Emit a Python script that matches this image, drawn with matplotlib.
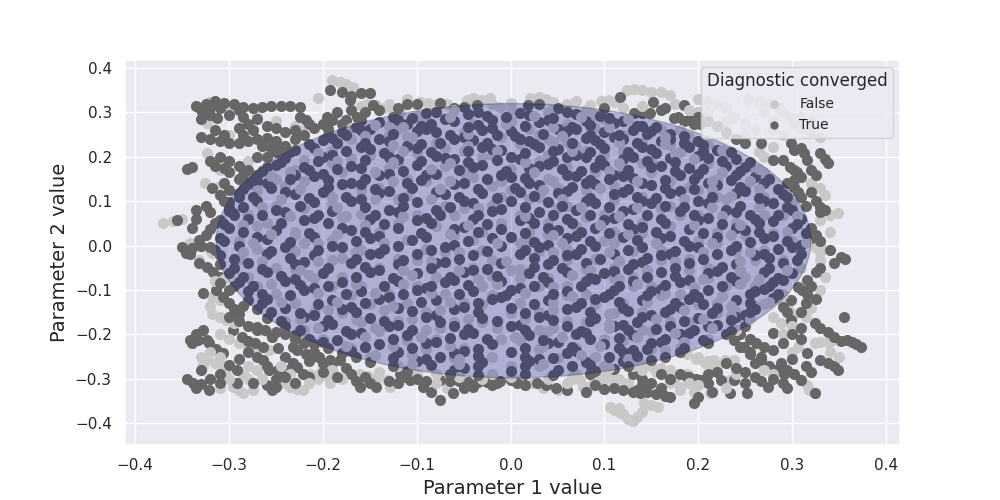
import numpy as np
import matplotlib
matplotlib.use("Agg")
import matplotlib.pyplot as plt
from matplotlib.patches import Ellipse
from matplotlib.lines import Line2D
import seaborn as sns

# points, (parameter 1, parameter 2)
true_outer = [
 (-.335,.315),(-.325,.32),(-.315,.325),(-.305,.322),(-.295,.318),(-.285,.312),(-.275,.31),(-.265,.312),
 (-.255,.314),(-.245,.315),(-.235,.315),(-.225,.312),(-.33,.305),(-.32,.295),(-.313,.287),(-.33,.285),
 (-.29,.305),(-.285,.29),(-.28,.275),(-.275,.26),(-.29,.265),(-.33,.245),(-.32,.24),(-.31,.235),(-.3,.232),
 (-.29,.23),(-.28,.235),(-.27,.24),(-.26,.242),(-.25,.235),(-.24,.225),(-.34,.178),(-.345,.172),
 (-.31,.2),(-.3,.19),(-.29,.18),(-.28,.17),(-.27,.16),(-.3,.165),(-.29,.15),(-.318,.13),(-.31,.115),
 (-.305,.1),(-.3,.085),(-.296,.073),(-.356,.057),(-.335,.08),(-.335,.06),(-.34,.04),(-.332,.012),(-.346,-.017),
 (-.225,.29),(-.218,.283),(-.196,.29),(-.19,.283),(-.18,.275),(-.164,.29),(-.2,.275),(-.195,.262),(-.175,.283),
 (-.16,.283),(-.26,.2),(-.25,.21),(-.27,.2),(-.24,.255),(-.23,.26),
 (-.193,.35),(-.171,.328),(-.16,.343),(-.15,.343),(-.147,.316),(-.1,.32),(-.075,.322),(-.036,.316),(.018,.316),
 (.117,.335),(.152,.323),(.185,.316),(.178,.29),(.19,.283),(.195,.275),(.131,.298),(.14,.298),(.149,.298),
 (.174,.287),(.185,.28),(.202,.275),(.267,.231),(.28,.193),(.29,.193),(.302,.215),(.298,.177),(.305,.165),
 (.309,.155),(.33,.208),(.335,.196),(.338,.186),(.316,.193),(.299,.23),(.31,.22),(.313,.208),(.302,.17),
 (.302,.148),(.295,.14),(.302,.132),(.306,.12),(.309,.11),(.33,.087),(.335,.08),(.33,.075),
 (.352,-.026),(.356,-.03),(.316,-.078),(.306,-.093),(.311,-.1),(.316,-.108),(.299,-.123),(.29,-.138),
 (.295,-.15),(.299,-.168),(.355,-.161),(.324,-.175),(.33,-.185),(.338,-.195),(.345,-.206),(.359,-.213),
 (.364,-.218),(.368,-.222),(.373,-.228),(.352,-.215),(.316,-.242),(.33,-.258),(.338,-.265),(.345,-.272),
 (.349,-.28),(.288,-.265),(.295,-.28),(.302,-.29),(.309,-.303),(.324,-.333),
 (.249,-.228),(.255,-.245),(.26,-.265),(.252,-.333),(.234,-.333),(.195,-.355),(.18,-.288),(.19,-.295),
 (.202,-.303),(.245,-.2),(.255,-.21),(.262,-.22),(.27,-.228),(.28,-.197),(.26,-.296),(.267,-.305),
 (.274,-.318),(.267,-.258),(.275,-.27),(.283,-.28),(.291,-.288),(.238,-.213),(.245,-.228),(.255,-.24),
 (.267,-.25),(.21,-.31),(.224,-.303),(.238,-.303),(.135,-.326),(.145,-.33),(.155,-.335),(.165,-.338),
 (.17,-.341),(.11,-.32),(.12,-.325),(.13,-.33),(.138,-.333),(.23,-.265),
 (.028,-.31),(.038,-.315),(.048,-.32),(.06,-.326),(.0,-.303),(-.011,-.305),(.007,-.31),
 (-.075,-.303),(-.065,-.305),(-.055,-.306),(-.045,-.307),(-.035,-.308),(-.025,-.308),(-.015,-.31),
 (-.093,-.318),(-.085,-.33),(-.075,-.348),(-.061,-.333),(-.118,-.288),(-.112,-.295),(-.107,-.303),
 (-.143,-.318),(-.182,-.258),(-.175,-.275),(-.17,-.29),(-.165,-.305),(-.161,-.318),(-.204,-.25),(-.19,-.265),
 (.13,-.29),(.14,-.3),(.15,-.31),(.188,-.296),(.198,-.3),(.206,-.303),
 (-.35,-.003),(-.342,-.02),(-.332,-.04),(-.324,-.048),(-.317,-.06),(-.31,-.071),(-.328,-.107),(-.314,-.1),
 (-.307,-.116),(-.3,-.13),(-.295,-.142),(-.289,-.153),(-.285,-.135),(-.328,-.19),(-.342,-.213),(-.333,-.213),
 (-.324,-.213),(-.321,-.22),(-.314,-.232),(-.307,-.242),(-.3,-.269),(-.292,-.28),(-.339,-.31),(-.33,-.312),
 (-.321,-.325),(-.296,-.19),(-.286,-.206),(-.28,-.215),(-.272,-.22),(-.264,-.228),(-.264,-.258),(-.254,-.206),
 (-.248,-.23),(-.24,-.25),(-.232,-.265),(-.228,-.273),(-.27,-.183),(-.262,-.19),(-.257,-.28),(-.248,-.28),
 (-.239,-.28),(-.292,-.31),(-.26,-.315),(-.25,-.318),(-.254,-.325),(-.221,-.288),(-.215,-.295),(-.228,-.235),
 (-.218,-.243),(-.205,-.25),(-.193,-.258),(-.232,-.228),(-.21,-.24),
]

true_outer_b = [
 (-.31,.31),(-.3,.295),(-.32,.31),(-.27,.285),(-.26,.27),(-.25,.265),(-.315,.26),(-.305,.25),(-.285,.25),
 (-.265,.225),(-.255,.22),(-.245,.215),(-.23,.24),(-.22,.25),(-.21,.265),(-.215,.275),(-.32,.19),(-.315,.18),
 (-.305,.175),(-.285,.16),(-.27,.145),(-.305,.14),(-.3,.125),(-.29,.11),(-.325,.09),(-.32,.075),(-.315,.05),
 (-.325,.025),(-.33,.0),(-.34,-.005),
 (-.18,.345),(-.17,.338),(-.185,.3),(-.17,.305),(-.155,.3),(-.14,.305),(-.12,.31),(-.11,.318),(-.06,.31),
 (-.05,.312),(.03,.318),(.05,.31),(.1,.31),(.16,.305),(.165,.31),(.2,.29),(.21,.28),(.22,.27),(.23,.255),
 (.24,.24),(.25,.23),
 (.32,.17),(.325,.16),(.32,.12),(.325,.1),(.315,.09),(.32,.04),(.325,.025),(.33,.01),(.34,-.01),(.345,-.04),
 (.33,-.05),(.325,-.06),(.32,-.09),(.325,-.12),(.315,-.13),(.31,-.15),(.31,-.185),(.3,-.2),(.31,-.21),
 (.29,-.22),(.28,-.235),(.3,-.255),(.315,-.27),(.32,-.285),(.28,-.3),(.29,-.31),(.295,-.32),
 (.16,-.29),(.17,-.3),(.16,-.32),(.14,-.315),(.21,-.29),(.22,-.285),(.24,-.275),(.25,-.285),(.25,-.31),
 (.215,-.33),(.2,-.34),(.09,-.315),(.1,-.322),(.08,-.33),
 (-.1,-.3),(-.09,-.305),(-.12,-.31),(-.13,-.305),(-.15,-.31),(-.155,-.295),(-.05,-.32),(-.04,-.318),
 (-.02,-.315),(.015,-.315),
 (-.3,-.1),(-.295,-.09),(-.31,-.085),(-.3,-.16),(-.29,-.17),(-.28,-.18),(-.27,-.19),(-.25,-.195),(-.24,-.2),
 (-.23,-.21),(-.22,-.22),(-.28,-.24),(-.27,-.25),(-.29,-.255),(-.26,-.27),(-.25,-.3),(-.24,-.295),
 (-.215,-.26),(-.2,-.265),(-.31,-.29),(-.32,-.3),(-.33,-.28),(-.34,-.22),(-.335,-.2),(-.345,-.3),
 (-.335,-.32),(-.31,-.31),(-.275,-.31),(-.23,-.31),(-.2,-.285),(-.185,-.295),
]

false_outer = [
 (-.321,.323),(-.324,.276),(-.324,.208),(-.326,.14),(-.31,.135),(-.37,.05),(-.36,.055),(-.35,.06),
 (-.332,-.033),(-.33,.0),(-.32,-.01),(-.3,.3),(-.27,.29),(-.25,.28),(-.3,.25),(-.26,.22),(-.28,.19),
 (-.31,.17),(-.23,.27),(-.19,.373),(-.182,.368),(-.175,.363),(-.168,.357),(-.205,.332),(-.153,.32),
 (-.143,.316),(-.135,.31),(-.125,.305),(-.118,.3),(-.097,.323),(-.088,.322),(-.078,.32),(-.068,.318),
 (-.047,.328),(-.038,.33),(-.03,.328),(-.04,.332),(-.022,.332),(-.011,.312),(.021,.333),(.03,.334),
 (.038,.33),(.045,.323),(.085,.316),(.096,.325),(.105,.327),(.11,.323),(.124,.35),(.132,.352),(.14,.35),
 (.15,.347),(.16,.345),(.17,.34),(.175,.32),(-.225,.26),(-.2,.24),
 (.2,.33),(.21,.325),(.22,.32),(.23,.31),(.238,.29),(.2,.3),(.253,.33),(.265,.325),(.275,.32),(.285,.31),
 (.298,.29),(.27,.3),(.302,.275),(.31,.265),(.32,.255),(.33,.245),(.28,.222),(.265,.21),(.27,.2),(.32,.14),
 (.349,.073),(.33,.057),(.324,-.003),(.33,.0),(.33,-.033),(.34,.07),
 (.29,-.131),(.296,-.142),(.302,-.153),(.288,-.175),(.28,-.16),(.324,-.22),(.33,-.217),(.338,-.217),
 (.341,-.215),(.306,-.228),(.309,-.303),(.316,-.315),(.324,-.333),(.318,-.325),
 (.2,-.25),(.21,-.26),(.22,-.27),(.234,-.303),(.213,-.333),(.18,-.326),(.188,-.243),(.198,-.255),
 (.207,-.265),(.217,-.273),(.217,-.258),(.228,-.258),(.238,-.258),(.106,-.364),(.11,-.37),(.115,-.375),
 (.12,-.38),(.125,-.39),(.13,-.395),(.135,-.385),(.14,-.375),(.115,-.365),(.142,-.355),(.15,-.36),
 (.157,-.364),(.096,-.28),(.105,-.29),(.115,-.3),(.125,-.31),(.131,-.28),(.138,-.265),(.15,-.27),
 (.16,-.275),(.17,-.28),(.188,-.288),(.167,-.288),(.174,-.3),(.181,-.318),(.195,-.33),
 (.024,-.31),(.035,-.32),(.05,-.325),(.077,-.318),(.01,-.303),(.074,-.303),(.082,-.318),(.088,-.296),
 (.1,-.3),(.11,-.31),(-.068,-.321),(-.129,-.318),(-.161,-.288),(-.152,-.293),(-.142,-.298),(-.132,-.303),
 (-.342,.006),(-.318,-.017),(-.318,-.116),(-.31,-.123),(-.3,-.13),(-.318,-.153),(-.31,-.16),(-.303,-.168),
 (-.324,-.258),(-.315,-.265),(-.308,-.272),(-.303,-.28),(-.328,-.268),(-.296,-.318),(-.29,-.325),
 (-.285,-.333),(-.275,-.325),(-.289,-.22),(-.28,-.225),(-.27,-.23),(-.257,-.235),(-.275,-.183),
 (-.265,-.19),(-.257,-.197),(-.243,-.31),(-.235,-.318),(-.228,-.322),(-.221,-.325),(-.214,-.288),
 (-.205,-.3),(-.193,-.31),(-.204,-.288),(-.195,-.295),(-.285,-.29),(-.28,-.3),
]

false_outer_b = [
 (-.16,.315),(-.13,.32),(-.11,.33),(-.02,.32),(.0,.322),(.06,.32),(.07,.325),(.08,.305),(.12,.31),
 (.14,.315),(.19,.305),(.21,.3),(.23,.28),(.25,.275),(.26,.26),(.28,.26),(.29,.25),(.25,.25),(.28,.28),
 (.29,.3),(.31,.29),(.32,.28),
 (.33,.13),(.335,.115),(.34,.03),(.33,-.015),(.335,-.07),(.33,-.1),(.32,-.14),(.315,-.16),(.3,-.18),
 (.29,-.2),(.34,-.24),(.35,-.25),(.3,-.24),(.27,-.28),(.28,-.29),
 (.13,-.27),(.14,-.28),(.155,-.285),(.17,-.31),(.19,-.31),(.2,-.315),(.23,-.32),(.24,-.29),(.06,-.31),
 (.065,-.3),(.09,-.305),
 (-.14,-.285),(-.1,-.29),(-.08,-.31),(-.03,-.3),(.0,-.295),(.04,-.3),(-.18,-.3),(-.19,-.28),(-.2,-.27),
 (-.315,-.08),(-.305,-.075),(-.32,-.135),(-.295,-.175),(-.31,-.2),(-.3,-.21),(-.32,-.24),(-.31,-.25),
 (-.33,-.25),(-.28,-.27),(-.27,-.28),(-.265,-.3),(-.3,-.3),(-.31,-.32),(-.245,-.27),(-.235,-.29),(-.215,-.31),
]

true_inner = [
 (-.09,.298),(-.08,.302),(-.045,.296),(-.035,.3),(.01,.298),(.02,.295),(.06,.3),(.07,.297),
 (-.14,.278),(-.12,.282),(-.11,.275),(-.07,.285),(-.06,.28),(-.02,.283),(.03,.279),(.04,.284),(.08,.28),
 (.11,.276),(.12,.281),(.14,.27),
 (-.18,.255),(-.16,.26),(-.15,.262),(-.1,.258),(-.09,.262),(-.08,.255),(-.03,.26),(-.02,.265),(.0,.258),
 (.05,.262),(.06,.258),(.07,.263),(.1,.255),(.13,.26),(.15,.257),(.17,.252),
 (-.2,.238),(-.19,.242),(-.14,.24),(-.13,.236),(-.06,.24),(-.05,.245),(-.04,.238),(.01,.24),(.02,.236),
 (.08,.242),(.09,.238),(.11,.244),(.12,.24),(.16,.236),(.17,.241),(.2,.236),
 (-.23,.215),(-.21,.22),(-.16,.222),(-.15,.218),(-.11,.224),(-.1,.22),(-.03,.222),(-.02,.218),(-.01,.215),
 (.03,.222),(.05,.218),(.1,.22),(.14,.222),(.15,.218),(.19,.222),(.22,.215),
 (-.24,.198),(-.2,.2),(-.19,.205),(-.13,.2),(-.12,.196),(-.08,.202),(-.07,.198),(-.06,.194),(.0,.2),
 (.01,.196),(.06,.2),(.07,.205),(.08,.2),(.12,.196),(.13,.2),(.17,.198),(.2,.202),(.21,.198),(.24,.195),
 (-.26,.178),(-.25,.182),(-.22,.178),(-.17,.18),(-.16,.175),(-.1,.182),(-.04,.178),(-.03,.182),(.02,.175),
 (.03,.18),(.04,.184),(.09,.178),(.1,.182),(.15,.176),(.16,.18),(.19,.175),(.23,.18),(.25,.176),
 (-.27,.158),(-.23,.16),(-.21,.156),(-.2,.162),(-.14,.158),(-.13,.162),(-.09,.158),(-.08,.162),(-.01,.158),
 (.0,.155),(.06,.16),(.07,.156),(.11,.16),(.12,.156),(.13,.152),(.18,.158),(.2,.162),(.24,.158),(.26,.155),
 (-.28,.138),(-.26,.14),(-.18,.138),(-.17,.142),(-.16,.138),(-.11,.14),(-.06,.138),(-.05,.142),(.02,.14),
 (.03,.136),(.08,.142),(.09,.138),(.14,.14),(.15,.136),(.21,.14),(.22,.136),(.27,.14),
 (-.29,.118),(-.24,.12),(-.23,.116),(-.2,.12),(-.14,.118),(-.13,.122),(-.08,.12),(-.07,.116),(-.03,.118),
 (.01,.12),(.05,.118),(.06,.122),(.11,.116),(.12,.12),(.17,.118),(.18,.122),(.24,.118),(.25,.122),(.29,.116),
 (-.3,.098),(-.27,.1),(-.21,.098),(-.17,.1),(-.16,.104),(-.1,.098),(-.05,.1),(-.04,.096),(.0,.1),(.04,.098),
 (.08,.1),(.09,.096),(.14,.1),(.15,.096),(.2,.1),(.21,.096),(.27,.1),(.28,.096),
 (-.3,.078),(-.25,.08),(-.24,.076),(-.19,.078),(-.13,.08),(-.12,.076),(-.08,.08),(-.02,.078),(-.01,.082),
 (.03,.076),(.07,.08),(.12,.078),(.13,.082),(.18,.078),(.23,.08),(.24,.076),(.3,.08),
 (-.31,.058),(-.28,.06),(-.22,.058),(-.21,.062),(-.15,.06),(-.1,.058),(-.09,.062),(-.04,.06),(.01,.058),
 (.02,.062),(.06,.06),(.1,.058),(.11,.062),(.16,.06),(.2,.058),(.21,.062),(.26,.06),(.28,.056),(.31,.06),
 (-.32,.038),(-.3,.04),(-.25,.036),(-.18,.04),(-.17,.036),(-.12,.04),(-.06,.038),(-.05,.042),(-.01,.038),
 (.04,.04),(.05,.036),(.09,.04),(.13,.038),(.14,.042),(.19,.038),(.24,.04),(.25,.036),(.3,.04),
 (-.31,.018),(-.27,.02),(-.26,.016),(-.21,.02),(-.15,.018),(-.14,.022),(-.09,.02),(-.02,.018),(.0,.02),
 (.06,.018),(.07,.022),(.12,.02),(.16,.018),(.17,.022),(.22,.02),(.27,.018),(.28,.022),(.32,.018),
 (-.32,-.002),(-.29,.0),(-.24,-.002),(-.19,.0),(-.18,-.004),(-.12,.0),(-.07,-.002),(-.06,.002),(-.01,.0),
 (.03,-.002),(.04,.002),(.09,.0),(.14,-.002),(.19,.0),(.2,-.004),(.24,.0),(.3,-.002),(.31,.002),
 (-.31,-.022),(-.26,-.02),(-.21,-.022),(-.15,-.02),(-.14,-.016),(-.1,-.02),(-.04,-.022),(.01,-.02),
 (.06,-.022),(.07,-.018),(.11,-.02),(.16,-.022),(.17,-.018),(.22,-.02),(.26,-.022),(.27,-.018),(.31,-.02),
 (-.31,-.042),(-.28,-.04),(-.23,-.042),(-.22,-.038),(-.17,-.04),(-.12,-.042),(-.08,-.04),(-.07,-.036),
 (-.01,-.04),(.04,-.042),(.08,-.04),(.13,-.042),(.14,-.038),(.19,-.04),(.24,-.042),(.29,-.04),
 (-.3,-.062),(-.26,-.06),(-.2,-.062),(-.15,-.06),(-.14,-.056),(-.1,-.062),(-.05,-.06),(-.04,-.056),
 (.02,-.062),(.06,-.06),(.1,-.062),(.11,-.058),(.16,-.06),(.21,-.062),(.22,-.058),(.27,-.06),(.3,-.062),
 (-.29,-.082),(-.24,-.08),(-.23,-.076),(-.18,-.082),(-.12,-.08),(-.07,-.082),(-.06,-.078),(-.01,-.08),
 (.04,-.082),(.08,-.08),(.09,-.076),(.13,-.08),(.18,-.082),(.19,-.078),(.24,-.08),(.28,-.082),(.29,-.078),
 (-.28,-.102),(-.22,-.1),(-.21,-.096),(-.16,-.102),(-.1,-.1),(-.09,-.096),(-.04,-.102),(.0,-.1),(.01,-.096),
 (.06,-.102),(.11,-.1),(.15,-.102),(.16,-.098),(.21,-.1),(.26,-.102),(.27,-.098),
 (-.28,-.122),(-.26,-.12),(-.19,-.122),(-.14,-.12),(-.13,-.116),(-.08,-.122),(-.02,-.12),(-.01,-.116),
 (.04,-.122),(.09,-.12),(.1,-.116),(.14,-.122),(.19,-.12),(.2,-.116),(.24,-.122),(.28,-.118),
 (-.27,-.142),(-.24,-.14),(-.18,-.142),(-.17,-.138),(-.12,-.14),(-.06,-.142),(-.05,-.138),(.0,-.14),
 (.06,-.142),(.07,-.138),(.12,-.14),(.17,-.142),(.18,-.138),(.22,-.14),(.26,-.142),
 (-.26,-.162),(-.22,-.16),(-.21,-.156),(-.15,-.162),(-.09,-.16),(-.08,-.156),(-.03,-.162),(.03,-.16),
 (.04,-.156),(.09,-.162),(.14,-.16),(.15,-.156),(.2,-.162),(.24,-.16),(.25,-.156),
 (-.24,-.182),(-.2,-.18),(-.19,-.176),(-.13,-.182),(-.12,-.178),(-.06,-.18),(.0,-.182),(.01,-.178),
 (.06,-.18),(.11,-.182),(.12,-.178),(.17,-.18),(.21,-.182),(.22,-.178),(.25,-.18),
 (-.23,-.202),(-.17,-.2),(-.16,-.196),(-.11,-.202),(-.05,-.2),(-.04,-.196),(.02,-.202),(.07,-.2),
 (.08,-.196),(.13,-.202),(.18,-.2),(.19,-.196),(.23,-.2),
 (-.21,-.222),(-.2,-.218),(-.14,-.222),(-.09,-.22),(-.08,-.216),(-.02,-.222),(.04,-.22),(.05,-.216),
 (.1,-.222),(.15,-.22),(.16,-.216),(.21,-.22),
 (-.18,-.242),(-.17,-.238),(-.12,-.24),(-.06,-.242),(-.05,-.238),(.0,-.24),(.06,-.242),(.07,-.238),
 (.12,-.24),(.13,-.236),(.18,-.24),
 (-.15,-.262),(-.1,-.26),(-.09,-.256),(-.03,-.262),(.02,-.26),(.03,-.256),(.08,-.262),(.12,-.26),(.15,-.258),
 (-.11,-.282),(-.06,-.28),(-.05,-.276),(.0,-.282),(.05,-.28),(.09,-.282),(.11,-.278),
]

true_inner_b = [
 (-.125,.29),(-.105,.288),(-.025,.292),(-.005,.29),(.045,.288),(.095,.291),(.105,.287),
 (-.165,.268),(-.095,.27),(-.085,.273),(-.045,.268),(-.035,.272),(.015,.27),(.065,.268),(.085,.272),
 (.135,.27),(.155,.266),
 (-.195,.248),(-.175,.25),(-.125,.252),(-.065,.248),(-.015,.25),(.005,.246),(.035,.252),(.085,.25),
 (.115,.248),(.145,.252),(.185,.246),
 (-.215,.228),(-.185,.23),(-.155,.232),(-.095,.228),(-.075,.23),(-.025,.232),(.025,.228),(.065,.232),
 (.095,.228),(.135,.23),(.185,.232),(.205,.226),
 (-.235,.21),(-.175,.212),(-.135,.208),(-.085,.21),(-.045,.212),(.015,.208),(.045,.212),(.085,.21),
 (.125,.21),(.155,.208),(.205,.212),(.235,.21),
 (-.245,.188),(-.205,.19),(-.155,.192),(-.095,.19),(-.045,.188),(-.015,.192),(.045,.19),(.095,.192),
 (.145,.19),(.175,.188),(.225,.19),(.255,.188),
 (-.265,.168),(-.215,.17),(-.185,.172),(-.115,.168),(-.055,.17),(-.005,.168),(.055,.172),(.075,.168),
 (.125,.17),(.175,.168),(.205,.172),(.245,.168),
 (-.275,.148),(-.235,.15),(-.195,.148),(-.155,.15),(-.095,.148),(-.025,.15),(.015,.152),(.085,.148),
 (.105,.15),(.165,.148),(.195,.15),(.235,.148),(.275,.15),
 (-.285,.128),(-.255,.13),(-.195,.132),(-.145,.128),(-.105,.13),(-.035,.128),(.005,.13),(.065,.132),
 (.125,.128),(.165,.13),(.195,.128),(.245,.132),(.285,.128),
 (-.275,.11),(-.215,.108),(-.175,.11),(-.115,.108),(-.055,.11),(-.015,.108),(.025,.112),(.085,.108),
 (.135,.11),(.155,.108),(.215,.11),(.265,.108),(.295,.11),
 (-.285,.088),(-.225,.09),(-.155,.088),(-.115,.09),(-.065,.088),(.015,.088),(.055,.09),(.105,.088),
 (.165,.09),(.185,.088),(.245,.09),(.295,.088),
 (-.295,.068),(-.265,.07),(-.205,.068),(-.145,.07),(-.075,.068),(-.035,.07),(.045,.068),(.085,.07),
 (.145,.068),(.195,.07),(.255,.068),(.285,.07),
 (-.305,.048),(-.245,.05),(-.195,.052),(-.135,.048),(-.085,.05),(-.025,.048),(.025,.05),(.065,.052),
 (.125,.048),(.165,.05),(.225,.048),(.265,.052),(.305,.048),
 (-.285,.03),(-.215,.028),(-.155,.03),(-.095,.028),(-.035,.03),(.015,.028),(.075,.03),(.105,.028),
 (.155,.03),(.205,.028),(.265,.03),(.315,.028),
 (-.305,.01),(-.235,.008),(-.165,.01),(-.105,.012),(-.045,.01),(.025,.008),(.085,.01),(.135,.012),
 (.185,.01),(.255,.008),(.295,.01),
 (-.315,-.01),(-.255,-.012),(-.205,-.01),(-.135,-.008),(-.085,-.01),(-.025,-.012),(.015,-.01),(.075,-.008),
 (.125,-.01),(.175,-.012),(.235,-.01),(.285,-.008),
 (-.295,-.03),(-.235,-.028),(-.165,-.03),(-.115,-.032),(-.055,-.03),(.025,-.028),(.045,-.032),(.095,-.03),
 (.145,-.028),(.205,-.03),(.275,-.028),(.305,-.032),
 (-.295,-.05),(-.265,-.052),(-.195,-.05),(-.155,-.048),(-.085,-.05),(-.025,-.052),(.025,-.048),(.055,-.05),
 (.125,-.052),(.175,-.05),(.225,-.048),(.275,-.05),
 (-.285,-.07),(-.245,-.068),(-.165,-.07),(-.125,-.072),(-.065,-.07),(-.015,-.068),(.035,-.07),(.085,-.072),
 (.145,-.07),(.175,-.068),(.235,-.07),(.285,-.072),
 (-.275,-.09),(-.225,-.088),(-.195,-.09),(-.135,-.092),(-.085,-.09),(-.045,-.088),(.025,-.09),(.075,-.092),
 (.115,-.09),(.165,-.088),(.225,-.09),(.275,-.092),
 (-.265,-.11),(-.235,-.112),(-.175,-.11),(-.115,-.108),(-.055,-.11),(-.005,-.112),(.045,-.108),(.105,-.11),
 (.145,-.112),(.195,-.11),(.255,-.108),(.285,-.11),
 (-.265,-.13),(-.205,-.132),(-.155,-.13),(-.095,-.128),(-.035,-.13),(.025,-.132),(.075,-.13),(.115,-.128),
 (.175,-.13),(.205,-.132),(.255,-.13),
 (-.255,-.15),(-.225,-.152),(-.165,-.15),(-.105,-.148),(-.035,-.15),(.015,-.152),(.085,-.15),(.125,-.148),
 (.165,-.15),(.215,-.152),(.255,-.15),
 (-.245,-.17),(-.195,-.168),(-.135,-.17),(-.075,-.172),(-.015,-.17),(.045,-.168),(.085,-.17),(.135,-.172),
 (.185,-.17),(.235,-.168),
 (-.225,-.19),(-.175,-.192),(-.105,-.19),(-.045,-.188),(.015,-.19),(.075,-.192),(.125,-.19),(.155,-.188),
 (.195,-.19),(.235,-.192),
 (-.215,-.21),(-.185,-.212),(-.125,-.21),(-.065,-.208),(-.025,-.21),(.035,-.212),(.085,-.21),(.115,-.208),
 (.165,-.21),(.205,-.212),
 (-.195,-.23),(-.155,-.228),(-.105,-.23),(-.035,-.232),(.015,-.23),(.065,-.228),(.115,-.23),(.145,-.232),
 (.185,-.23),
 (-.165,-.25),(-.125,-.252),(-.075,-.25),(-.035,-.248),(.015,-.25),(.045,-.252),(.105,-.25),(.135,-.248),
 (.165,-.25),
 (-.125,-.27),(-.085,-.268),(-.035,-.27),(.015,-.272),(.065,-.27),(.085,-.268),(.125,-.27),
 (-.065,-.29),(-.035,-.292),(.015,-.29),(.045,-.292),(.085,-.288),
]

false_inner = [
 (-.06,.305),(.0,.305),(.04,.302),(.09,.295),(-.1,.293),
 (-.13,.27),(-.09,.283),(-.04,.275),(.0,.28),(.06,.275),(.1,.285),(.16,.262),
 (-.17,.265),(-.13,.25),(-.12,.262),(-.05,.255),(.02,.262),(.03,.25),(.09,.265),(.12,.25),(.18,.26),
 (-.17,.24),(-.11,.245),(-.08,.232),(-.01,.245),(.04,.24),(.06,.233),(.14,.232),(.19,.245),
 (-.19,.212),(-.13,.215),(-.07,.22),(-.05,.212),(.01,.228),(.07,.225),(.08,.213),(.12,.213),(.17,.226),(.21,.228),
 (-.22,.192),(-.17,.198),(-.15,.205),(-.1,.208),(-.03,.2),(-.02,.205),(.03,.19),(.04,.205),(.1,.205),
 (.15,.19),(.18,.21),(.23,.205),
 (-.23,.17),(-.19,.185),(-.13,.175),(-.12,.185),(-.07,.18),(.0,.172),(.06,.178),(.12,.17),(.14,.186),
 (.21,.185),(.26,.17),
 (-.25,.15),(-.18,.165),(-.11,.15),(-.05,.165),(-.04,.155),(.02,.162),(.04,.15),(.09,.165),(.15,.165),
 (.22,.15),(.27,.165),
 (-.24,.135),(-.22,.145),(-.14,.13),(-.09,.145),(-.02,.135),(-.01,.145),(.05,.13),(.11,.135),(.17,.145),
 (.19,.132),(.25,.13),
 (-.27,.125),(-.19,.11),(-.16,.125),(-.11,.112),(-.01,.11),(.0,.125),(.03,.11),(.08,.125),(.14,.11),
 (.2,.125),(.22,.11),(.27,.11),
 (-.25,.09),(-.19,.095),(-.12,.105),(-.07,.09),(-.02,.092),(.02,.105),(.06,.09),(.11,.102),(.17,.09),
 (.23,.105),(.3,.095),
 (-.28,.07),(-.22,.085),(-.16,.072),(-.1,.07),(-.05,.085),(.01,.07),(.05,.085),(.1,.07),(.16,.085),
 (.2,.07),(.27,.07),
 (-.26,.05),(-.18,.065),(-.12,.05),(-.06,.068),(-.01,.05),(.04,.05),(.08,.065),(.14,.05),(.18,.068),
 (.24,.05),(.29,.068),
 (-.27,.045),(-.23,.03),(-.14,.03),(-.08,.045),(-.03,.03),(.02,.03),(.07,.045),(.11,.03),(.17,.045),
 (.22,.03),(.28,.028),
 (-.29,.01),(-.23,.025),(-.19,.012),(-.11,.012),(-.06,.025),(-.04,.012),(.02,.01),(.04,.025),(.1,.01),
 (.14,.028),(.2,.01),(.25,.025),(.3,.01),
 (-.27,-.008),(-.22,.005),(-.16,-.01),(-.09,-.008),(-.03,-.01),(.01,.005),(.06,-.008),(.11,.005),
 (.16,-.01),(.22,.005),(.27,-.01),
 (-.29,-.03),(-.23,-.012),(-.18,-.028),(-.12,-.03),(-.07,-.015),(-.02,-.032),(.03,-.012),(.09,-.03),
 (.13,-.012),(.19,-.03),(.24,-.012),(.29,-.032),
 (-.25,-.05),(-.19,-.032),(-.14,-.05),(-.1,-.032),(-.04,-.05),(.01,-.052),(.06,-.032),(.11,-.05),
 (.16,-.032),(.21,-.05),(.26,-.032),(.31,-.05),
 (-.28,-.07),(-.23,-.052),(-.18,-.07),(-.08,-.07),(-.02,-.068),(.0,-.055),(.04,-.072),(.08,-.052),
 (.13,-.07),(.19,-.054),(.25,-.07),
 (-.27,-.09),(-.21,-.072),(-.16,-.09),(-.1,-.09),(-.03,-.09),(.01,-.072),(.06,-.09),(.11,-.072),
 (.15,-.09),(.21,-.072),(.26,-.09),
 (-.25,-.11),(-.19,-.092),(-.13,-.11),(-.07,-.11),(-.02,-.112),(.03,-.092),(.08,-.11),(.13,-.092),
 (.18,-.11),(.23,-.092),(.29,-.11),
 (-.23,-.13),(-.17,-.112),(-.11,-.13),(-.05,-.13),(.01,-.13),(.06,-.112),(.12,-.13),(.16,-.112),
 (.22,-.13),(.26,-.135),
 (-.21,-.15),(-.15,-.132),(-.09,-.15),(-.03,-.132),(.03,-.15),(.09,-.132),(.14,-.15),(.2,-.132),
 (.24,-.15),(.27,-.132),
 (-.24,-.17),(-.18,-.152),(-.12,-.17),(-.06,-.172),(.0,-.152),(.06,-.17),(.11,-.152),(.17,-.17),(.22,-.152),
 (-.22,-.19),(-.16,-.172),(-.09,-.19),(-.03,-.172),(.03,-.19),(.08,-.172),(.14,-.19),(.19,-.172),(.24,-.19),
 (-.2,-.21),(-.14,-.192),(-.08,-.21),(-.01,-.21),(.04,-.192),(.1,-.21),(.15,-.192),(.21,-.21),
 (-.17,-.23),(-.11,-.212),(-.05,-.23),(.01,-.212),(.07,-.23),(.12,-.212),(.18,-.23),
 (-.15,-.25),(-.09,-.232),(-.02,-.25),(.03,-.232),(.09,-.25),(.15,-.232),
 (-.12,-.27),(-.06,-.252),(.0,-.27),(.05,-.252),(.1,-.27),(.14,-.272),
 (-.08,-.29),(-.02,-.29),(.03,-.272),(.07,-.29),
]

false_inner_b = [
 (-.065,.29),(.025,.293),(.075,.289),(.125,.286),
 (-.145,.272),(-.115,.266),(-.005,.274),(.045,.266),(.105,.268),
 (-.155,.246),(-.105,.244),(-.045,.252),(.055,.246),(.165,.244),
 (-.125,.226),(-.045,.225),(.045,.234),(.115,.234),(.165,.228),
 (-.205,.208),(-.115,.214),(-.015,.212),(.065,.212),(.175,.206),(.225,.216),
 (-.185,.19),(-.125,.188),(-.065,.186),(.015,.188),(.115,.186),(.195,.194),
 (-.235,.165),(-.145,.166),(-.085,.172),(.025,.166),(.105,.168),(.225,.166),(.265,.172),
 (-.255,.156),(-.125,.145),(-.065,.146),(.045,.146),(.135,.146),(.215,.146),(.255,.145),
 (-.225,.128),(-.075,.128),(.035,.126),(.095,.13),(.215,.126),(.265,.128),
 (-.245,.106),(-.145,.106),(-.085,.106),(.055,.106),(.185,.106),(.235,.112),
 (-.265,.086),(-.185,.086),(-.035,.084),(.075,.086),(.135,.086),(.215,.086),(.265,.088),
 (-.235,.066),(-.175,.066),(-.115,.066),(.015,.066),(.115,.066),(.225,.066),(.305,.066),
 (-.285,.046),(-.155,.046),(-.045,.046),(.095,.046),(.195,.046),(.245,.046),
 (-.255,.026),(-.185,.026),(-.065,.026),(.045,.024),(.125,.026),(.235,.024),(.295,.03),
 (-.275,.006),(-.205,.006),(-.135,.006),(-.015,.006),(.055,.006),(.155,.006),(.215,.006),(.315,.008),
 (-.285,-.014),(-.165,-.014),(-.055,-.014),(.045,-.014),(.105,-.014),(.205,-.014),(.255,-.014),
 (-.265,-.034),(-.205,-.034),(-.085,-.034),(-.005,-.034),(.115,-.034),(.175,-.034),(.245,-.034),
 (-.225,-.054),(-.115,-.054),(-.055,-.054),(.085,-.054),(.145,-.054),(.245,-.054),(.295,-.054),
 (-.215,-.066),(-.105,-.066),(-.035,-.076),(.065,-.066),(.115,-.076),(.205,-.076),(.265,-.076),
 (-.255,-.086),(-.165,-.086),(-.115,-.086),(-.015,-.086),(.045,-.094),(.135,-.086),(.195,-.094),(.245,-.086),
 (-.205,-.106),(-.145,-.106),(-.085,-.106),(.015,-.106),(.065,-.114),(.165,-.106),(.225,-.114),
 (-.245,-.126),(-.185,-.126),(-.125,-.136),(-.065,-.126),(.045,-.126),(.145,-.126),(.235,-.136),(.275,-.126),
 (-.195,-.146),(-.135,-.146),(-.075,-.146),(.045,-.146),(.105,-.154),(.185,-.146),(.235,-.156),
 (-.225,-.166),(-.165,-.166),(-.105,-.166),(-.045,-.166),(.015,-.166),(.105,-.176),(.155,-.166),
 (.205,-.166),(.255,-.166),
 (-.205,-.186),(-.145,-.186),(-.075,-.186),(-.015,-.186),(.045,-.186),(.105,-.186),(.175,-.196),(.215,-.186),
 (-.155,-.206),(-.095,-.206),(.005,-.206),(.055,-.206),(.135,-.206),(.185,-.216),
 (-.175,-.226),(-.125,-.226),(-.065,-.226),(.035,-.226),(.095,-.226),(.165,-.236),
 (-.145,-.246),(-.105,-.246),(-.055,-.256),(.075,-.246),(.125,-.256),
 (-.105,-.266),(-.055,-.266),(.035,-.266),(.105,-.276),
 (-.055,-.296),(.065,-.296),
]

ellipse_center = (0.003, 0.011)
ellipse_width = 0.634
ellipse_height = 0.618

colors = {False: "#c8c8c8", True: "#666666"}

sns.set_theme(style="darkgrid")

fig, ax = plt.subplots(figsize=(10, 5), dpi=100)

groups = [
    (false_outer, False), (true_outer, True), (false_outer_b, False), (true_outer_b, True),
    (false_inner, False), (true_inner, True), (false_inner_b, False), (true_inner_b, True),
]
for pts, conv in groups:
    arr = np.array(pts)
    ax.scatter(arr[:, 0], arr[:, 1], s=64, color=colors[conv], linewidths=0, zorder=2)

ell = Ellipse(ellipse_center, ellipse_width, ellipse_height, facecolor="navy",
              edgecolor="k", linewidth=1, alpha=0.25, zorder=3)
ax.add_patch(ell)

ax.set_xlim(-0.411, 0.415)
ax.set_ylim(-0.449, 0.418)
ax.set_xticks(np.arange(-0.4, 0.41, 0.1))
ax.set_yticks(np.arange(-0.4, 0.41, 0.1))
ax.tick_params(labelsize=11)
ax.set_xlabel("Parameter 1 value", fontsize=14)
ax.set_ylabel("Parameter 2 value", fontsize=14)

handles = [Line2D([], [], marker="o", ls="", color=colors[False], markersize=5),
           Line2D([], [], marker="o", ls="", color=colors[True], markersize=5)]
leg = ax.legend(handles, ["False", "True"], title="Diagnostic converged",
                loc="upper right", fontsize=10, title_fontsize=12)
leg.set_zorder(5)

fig.savefig("out.png", dpi=100)
